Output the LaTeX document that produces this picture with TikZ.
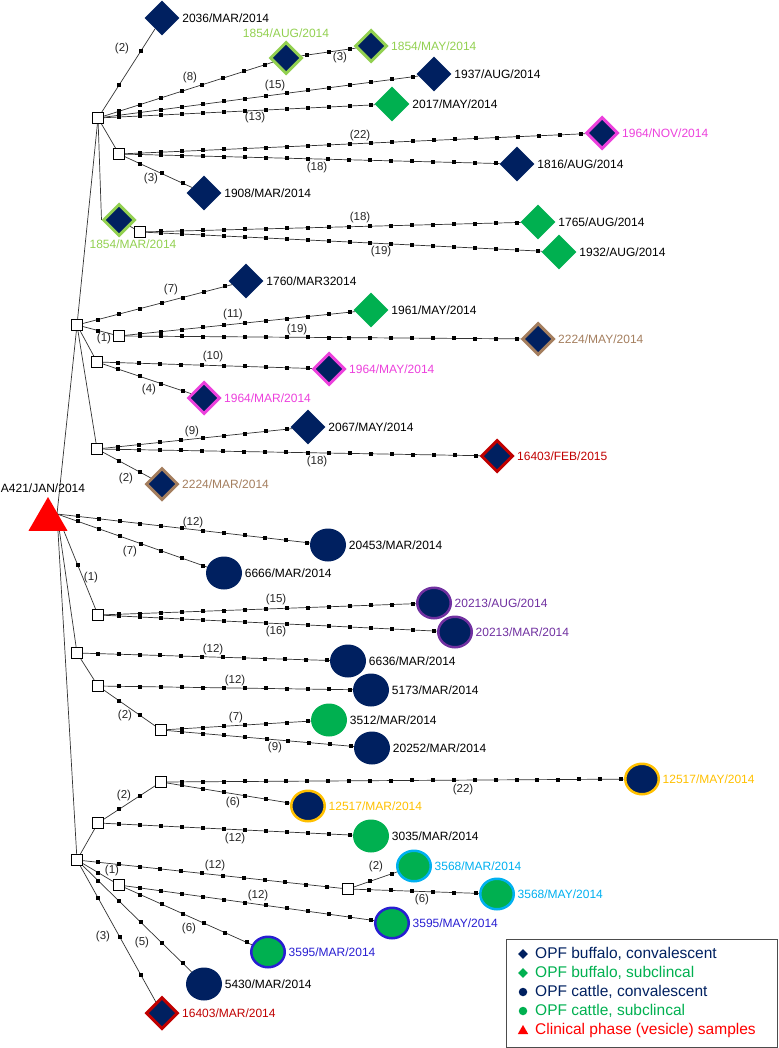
\documentclass[tikz,border=0pt]{standalone}
\usepackage{fontspec}
\setmainfont{Liberation Sans}
\usetikzlibrary{shapes.geometric,calc,backgrounds}
\definecolor{cnavy}{RGB}{0,32,96}
\definecolor{cgreen}{RGB}{0,176,80}
\definecolor{clgreen}{RGB}{146,208,80}
\definecolor{cmag}{RGB}{236,64,220}
\definecolor{cbrown}{RGB}{164,126,94}
\definecolor{cdred}{RGB}{192,0,0}
\definecolor{cpurple}{RGB}{112,48,160}
\definecolor{cgold}{RGB}{255,192,0}
\definecolor{clblue}{RGB}{0,176,240}
\definecolor{cvblue}{RGB}{40,30,210}
\newcommand\lnk[3]{\draw[edge] (#1) -- (#2);
  \foreach \k in {1,...,#3}{\fill[black] ($(#1)!{\k/(#3+1)}!(#2)$) +(-2,-2) rectangle +(2,2);}}
\newcommand\plainlnk[2]{\draw[edge] (#1) -- (#2);}
\begin{document}
\begin{tikzpicture}[x=1pt,y=-1pt,label distance=2pt,
 edge/.style={draw=black!80, line width=0.7pt},
 box/.style={draw=black, fill=white, line width=1pt, minimum size=11pt, inner sep=0},
 dia/.style={diamond, aspect=1, fill=cnavy, minimum width=35pt, minimum height=35pt, inner sep=0},
 gdia/.style={dia, fill=cgreen},
 odia/.style={dia, draw=#1, line width=3pt, minimum width=32pt, minimum height=32pt},
 cir/.style={ellipse, fill=cnavy, minimum width=36pt, minimum height=33pt, inner sep=0},
 gcir/.style={cir, fill=cgreen},
 ocir/.style={cir, draw=#1, line width=2.5pt, minimum width=33.5pt, minimum height=30.5pt},
 ogcir/.style={ocir=#1, fill=cgreen},
 lbl/.style={font=\fontsize{12}{14}\selectfont, inner sep=0.5pt},
 elbl/.style={font=\fontsize{11.5}{13}\selectfont, inner sep=0, text=black!85},
 leg/.style={font=\fontsize{15.5}{18}\selectfont, anchor=west, inner sep=0}]
\useasboundingbox (0,0) rectangle (778,1048);

% ---- boxes
\node[box] (b1) at (98,118) {};
\node[box] (b2) at (119,154) {};
\node[box] (b3) at (140,232) {};
\node[box] (b4) at (77,325) {};
\node[box] (b5) at (119,336) {};
\node[box] (b6) at (97,362) {};
\node[box] (b7) at (97,449) {};
\node[box] (b8) at (98,615) {};
\node[box] (b9) at (77,653) {};
\node[box] (b10) at (98,686) {};
\node[box] (b11) at (161,730) {};
\node[box] (b12) at (77,860) {};
\node[box] (b13) at (98,823) {};
\node[box] (b14) at (161,782) {};
\node[box] (b15) at (348,889) {};
\node[box] (b16) at (119,885) {};

% ---- root
\node[regular polygon, regular polygon sides=3, fill=red, minimum size=45pt, inner sep=0] (tri) at (48,519.5) {};
\coordinate (hub) at (57,514);
\node[lbl] (la421) at (43,488) {A421/JAN/2014};

% ---- diamonds
\node[dia,label={[lbl]right:2036/MAR/2014}] (n2036) at (162,18) {};
\node[odia=clgreen,label={[lbl,text=clgreen]above:1854/AUG/2014}] (a1854) at (286,58) {};
\node[odia=clgreen,label={[lbl,text=clgreen]right:1854/MAY/2014}] (m1854) at (371,46) {};
\node[dia,label={[lbl]right:1937/AUG/2014}] (n1937) at (434,74) {};
\node[gdia,label={[lbl]right:2017/MAY/2014}] (n2017) at (392,104) {};
\node[odia=cmag,label={[lbl,text=cmag]right:1964/NOV/2014}] (nov1964) at (602,133) {};
\node[dia,label={[lbl]right:1816/AUG/2014}] (n1816) at (517,164) {};
\node[dia,label={[lbl]right:1908/MAR/2014}] (n1908) at (204,193) {};
\node[odia=clgreen,label={[lbl,text=clgreen,xshift=14pt]below:1854/MAR/2014}] (r1854) at (119,220) {};
\node[gdia,label={[lbl]right:1765/AUG/2014}] (n1765) at (538,222) {};
\node[gdia,label={[lbl]right:1932/AUG/2014}] (n1932) at (559,252) {};
\node[dia,label={[lbl]right:1760/MAR32014}] (n1760) at (246,281) {};
\node[gdia,label={[lbl]right:1961/MAY/2014}] (n1961) at (371,310) {};
\node[odia=cbrown,label={[lbl,text=cbrown]right:2224/MAY/2014}] (may2224) at (538,339) {};
\node[odia=cmag,label={[lbl,text=cmag]right:1964/MAY/2014}] (may1964) at (329,369) {};
\node[odia=cmag,label={[lbl,text=cmag]right:1964/MAR/2014}] (mar1964) at (204,398) {};
\node[dia,label={[lbl]right:2067/MAY/2014}] (n2067) at (308,427) {};
\node[odia=cdred,label={[lbl,text=cdred]right:16403/FEB/2015}] (feb16403) at (497,456) {};
\node[odia=cbrown,label={[lbl,text=cbrown]right:2224/MAR/2014}] (mar2224) at (162,484) {};
\node[odia=cdred,label={[lbl,text=cdred]right:16403/MAR/2014}] (mar16403) at (162,1013) {};

% ---- circles
\node[cir,label={[lbl]right:20453/MAR/2014}] (n20453) at (328,545) {};
\node[cir,label={[lbl]right:6666/MAR/2014}] (n6666) at (224,573) {};
\node[ocir=cpurple,label={[lbl,text=cpurple]right:20213/AUG/2014}] (aug20213) at (434,603) {};
\node[ocir=cpurple,label={[lbl,text=cpurple]right:20213/MAR/2014}] (mar20213) at (455,632) {};
\node[cir,label={[lbl]right:6636/MAR/2014}] (n6636) at (348,661) {};
\node[cir,label={[lbl]right:5173/MAR/2014}] (n5173) at (371,690) {};
\node[gcir,label={[lbl]right:3512/MAR/2014}] (n3512) at (329,720) {};
\node[cir,label={[lbl]right:20252/MAR/2014}] (n20252) at (372,748) {};
\node[ocir=cgold,label={[lbl,text=cgold]right:12517/MAY/2014}] (may12517) at (642,779) {};
\node[ocir=cgold,label={[lbl,text=cgold]right:12517/MAR/2014}] (mar12517) at (308,806) {};
\node[gcir,label={[lbl]right:3035/MAR/2014}] (n3035) at (371,836) {};
\node[ogcir=clblue,label={[lbl,text=clblue]right:3568/MAR/2014}] (mar3568) at (414,866) {};
\node[ogcir=clblue,label={[lbl,text=clblue]right:3568/MAY/2014}] (may3568) at (497,894) {};
\node[ogcir=cvblue,label={[lbl,text=cvblue]right:3595/MAY/2014}] (may3595) at (392,923) {};
\node[ogcir=cvblue,label={[lbl,text=cvblue]right:3595/MAR/2014}] (mar3595) at (268,952) {};
\node[cir,label={[lbl]right:5430/MAR/2014}] (n5430) at (204,984) {};

% ---- connectors
\begin{pgfonlayer}{background}
\plainlnk{hub}{b4}
\plainlnk{b4}{b1}
\lnk{b1}{n2036}{2}
\lnk{b1}{a1854}{8}
\lnk{a1854}{m1854}{3}
\lnk{b1}{n1937}{15}
\lnk{b1}{n2017}{13}
\plainlnk{b1}{b2}
\lnk{b2}{nov1964}{22}
\lnk{b2}{n1816}{18}
\lnk{b2}{n1908}{3}
\plainlnk{b1}{r1854.west}
\plainlnk{r1854}{b3}
\lnk{b3}{n1765}{18}
\lnk{b3}{n1932}{19}
\lnk{b4}{n1760}{7}
\lnk{b4}{b5}{1}
\lnk{b5}{n1961}{11}
\lnk{b5}{may2224}{19}
\plainlnk{b4}{b6}
\lnk{b6}{may1964}{10}
\lnk{b6}{mar1964}{4}
\plainlnk{b4}{b7}
\lnk{b7}{n2067}{9}
\lnk{b7}{feb16403}{18}
\lnk{b7}{mar2224}{2}
\lnk{hub}{n20453}{12}
\lnk{hub}{n6666}{7}
\lnk{hub}{b8}{1}
\lnk{b8}{aug20213}{15}
\lnk{b8}{mar20213}{16}
\plainlnk{hub}{b9}
\lnk{b9}{n6636}{12}
\plainlnk{b9}{b10}
\lnk{b10}{n5173}{12}
\lnk{b10}{b11}{2}
\lnk{b11}{n3512}{7}
\lnk{b11}{n20252}{9}
\plainlnk{hub}{b12}
\plainlnk{b12}{b13}
\lnk{b13}{b14}{2}
\lnk{b14}{may12517}{22}
\lnk{b14}{mar12517}{6}
\lnk{b13}{n3035}{12}
\lnk{b12}{b15}{12}
\lnk{b15}{mar3568}{2}
\lnk{b15}{may3568}{6}
\lnk{b12}{b16}{1}
\lnk{b16}{may3595}{12}
\lnk{b16}{mar3595}{6}
\lnk{b12}{n5430}{5}
\lnk{b12}{mar16403}{3}
\end{pgfonlayer}

% ---- connector labels
\foreach \x/\y/\t [count=\i] in {122/49/2, 190/78/8, 340/58/3, 275/86/15, 255/118/13,
  360/136/22, 317/168/18, 151/179/3, 360/218/18, 381/252/19, 171/290/7, 104/339/1,
  233/315/11, 297/330/19, 213/357/10, 149/390/4, 192/432/9, 317/462/18, 126/479/2,
  193/523/12, 130/552/7, 91/578/1, 276/600/15, 276/632/16, 213/650/12, 235/681/12,
  125/716/2, 236/718/7, 275/748/9, 124/796/2, 463/790/22, 233/803/6, 235/839/12,
  215/866/12, 376/867/2, 422/900/6, 112/871/1, 258/896/12, 189/929/6, 142/943/5, 103/937/3}
  {\node[elbl] (e\i) at (\x,\y) {(\t)};}

% ---- legend
\node[draw=black!70, line width=0.9pt, minimum width=271pt, minimum height=108pt, anchor=north west, inner sep=0] (legbox) at (506,939) {};
\node[diamond, aspect=1, fill=cnavy, minimum width=10pt, minimum height=10pt, inner sep=0] (lm1) at (523,954) {};
\node[diamond, aspect=1, fill=cgreen, minimum width=10pt, minimum height=10pt, inner sep=0] (lm2) at (523,973) {};
\node[circle, fill=cnavy, minimum size=8.5pt, inner sep=0] (lm3) at (523,992) {};
\node[circle, fill=cgreen, minimum size=8.5pt, inner sep=0] (lm4) at (523,1011) {};
\node[regular polygon, regular polygon sides=3, fill=red, minimum size=12pt, inner sep=0] (lm5) at (523,1031) {};
\node[leg, text=cnavy] (lt1) at (535,954) {OPF buffalo, convalescent};
\node[leg, text=cgreen] (lt2) at (535,973) {OPF buffalo, subclincal};
\node[leg, text=cnavy] (lt3) at (535,992) {OPF cattle, convalescent};
\node[leg, text=cgreen] (lt4) at (535,1011) {OPF cattle, subclincal};
\node[leg, text=red] (lt5) at (535,1030) {Clinical phase (vesicle) samples};
\end{tikzpicture}
\end{document}
